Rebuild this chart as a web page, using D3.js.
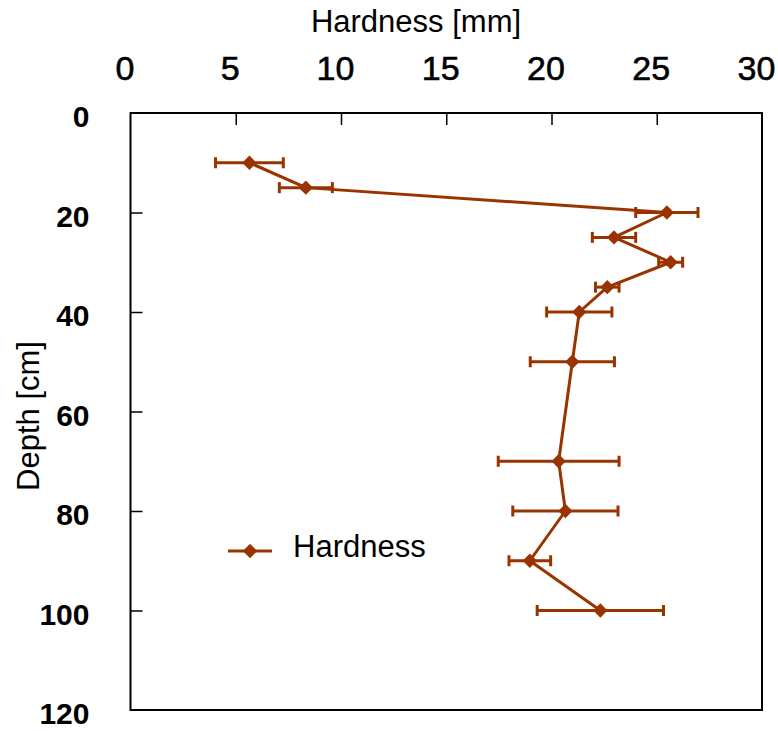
<!DOCTYPE html>
<html>
<head>
<meta charset="utf-8">
<script src="https://cdn.jsdelivr.net/npm/d3@7"></script>
<style>
  body { margin: 0; background: #fff; }
  svg { display: block; }
</style>
</head>
<body>
<svg id="chart" width="778" height="731"></svg>
<script>
const depths   = [10, 15, 20, 25, 30, 35, 40, 50, 70, 80, 90, 100];
const hardness = [5.65, 8.33, 25.48, 22.97, 25.66, 22.65, 21.32, 20.99, 20.34, 20.66, 18.97, 22.32];
const errors   = [1.61, 1.26, 1.48, 1.03, 0.57, 0.56, 1.55, 2.0, 2.87, 2.5, 0.99, 3.0];
const xTicks = [0, 5, 10, 15, 20, 25, 30];
const yTicks = [0, 20, 40, 60, 80, 100, 120];
const seriesName = "Hardness";
const xTitle = "Hardness [mm]";
const yTitle = "Depth [cm]";

(function () {
const data = depths.map((d, i) => ({ depth: d, h: hardness[i], e: errors[i] }));

const svg = d3.select("#chart");
const pl = 130.5, pr = 762, pt = 113, pb = 710;
const x = d3.scaleLinear().domain([0, 30]).range([pl, pr]);
const y = d3.scaleLinear().domain([0, 120]).range([pt, pb]);
const color = "#993300";
const font = "'Liberation Sans', Arial, Helvetica, sans-serif";

// frame
svg.append("rect").attr("x", pl).attr("y", pt)
  .attr("width", pr - pl).attr("height", pb - pt)
  .attr("fill", "none").attr("stroke", "#000").attr("stroke-width", 2);

// top axis (ticks inward)
const xAxis = d3.axisTop(x).tickValues(xTicks).tickSize(-12).tickPadding(0).tickFormat(d3.format("d"));
const gx = svg.append("g").attr("transform", `translate(0,${pt})`).call(xAxis);
gx.select(".domain").remove();
gx.selectAll(".tick line").attr("stroke", "#000").attr("stroke-width", 1.5)
  .filter(d => d === 0 || d === 30).remove();
gx.selectAll(".tick text")
  .attr("x", -6)
  .attr("y", -33)
  .attr("dy", 0)
  .style("font-family", font)
  .style("font-size", "34px")
  .attr("fill", "#000")
  .attr("stroke", "#000")
  .attr("stroke-width", 0.6);

// left axis
const yAxis = d3.axisLeft(y).tickValues(yTicks).tickSize(-12).tickPadding(0).tickFormat(d3.format("d"));
const gy = svg.append("g").attr("transform", `translate(${pl},0)`).call(yAxis);
gy.select(".domain").remove();
gy.selectAll(".tick line").attr("stroke", "#000").attr("stroke-width", 1.5)
  .filter(d => d === 0 || d === 120).remove();
gy.selectAll(".tick text")
  .attr("x", -41)
  .attr("y", 3)
  .attr("dy", "0.36em")
  .style("font-family", font)
  .style("font-weight", "bold")
  .style("font-size", "30px")
  .attr("fill", "#000");

// titles
svg.append("text").attr("x", 416).attr("y", 32).attr("text-anchor", "middle")
  .style("font-family", font).style("font-size", "31px")
  .text(xTitle);
svg.append("text").attr("transform", "translate(39,416) rotate(-90)").attr("text-anchor", "middle")
  .style("font-family", font).style("font-size", "31px")
  .text(yTitle);

// error bars
const eb = svg.append("g").attr("stroke", color).attr("stroke-width", 3).attr("fill", "none");
data.forEach(d => {
  eb.append("line").attr("x1", x(d.h - d.e)).attr("x2", x(d.h + d.e))
    .attr("y1", y(d.depth)).attr("y2", y(d.depth));
  [d.h - d.e, d.h + d.e].forEach(v => {
    eb.append("line").attr("x1", x(v)).attr("x2", x(v))
      .attr("y1", y(d.depth) - 5.5).attr("y2", y(d.depth) + 5.5);
  });
});

// line
const line = d3.line().x(d => x(d.h)).y(d => y(d.depth));
svg.append("path").datum(data).attr("d", line)
  .attr("fill", "none").attr("stroke", color).attr("stroke-width", 3)
  .attr("stroke-linejoin", "round");

// markers
const diamond = d3.symbol().type(d3.symbolDiamond2).size(130);
svg.append("g").selectAll("path").data(data).join("path")
  .attr("transform", d => `translate(${x(d.h)},${y(d.depth)})`)
  .attr("d", diamond).attr("fill", color);

// legend
const lg = svg.append("g");
lg.append("line").attr("x1", 228).attr("x2", 272).attr("y1", 551).attr("y2", 551)
  .attr("stroke", color).attr("stroke-width", 3);
lg.append("path").attr("transform", "translate(250,551)").attr("d", diamond).attr("fill", color);
lg.append("text").attr("x", 293).attr("y", 557)
  .style("font-family", font).style("font-size", "31px")
  .text(seriesName);
})();
</script>
</body>
</html>
